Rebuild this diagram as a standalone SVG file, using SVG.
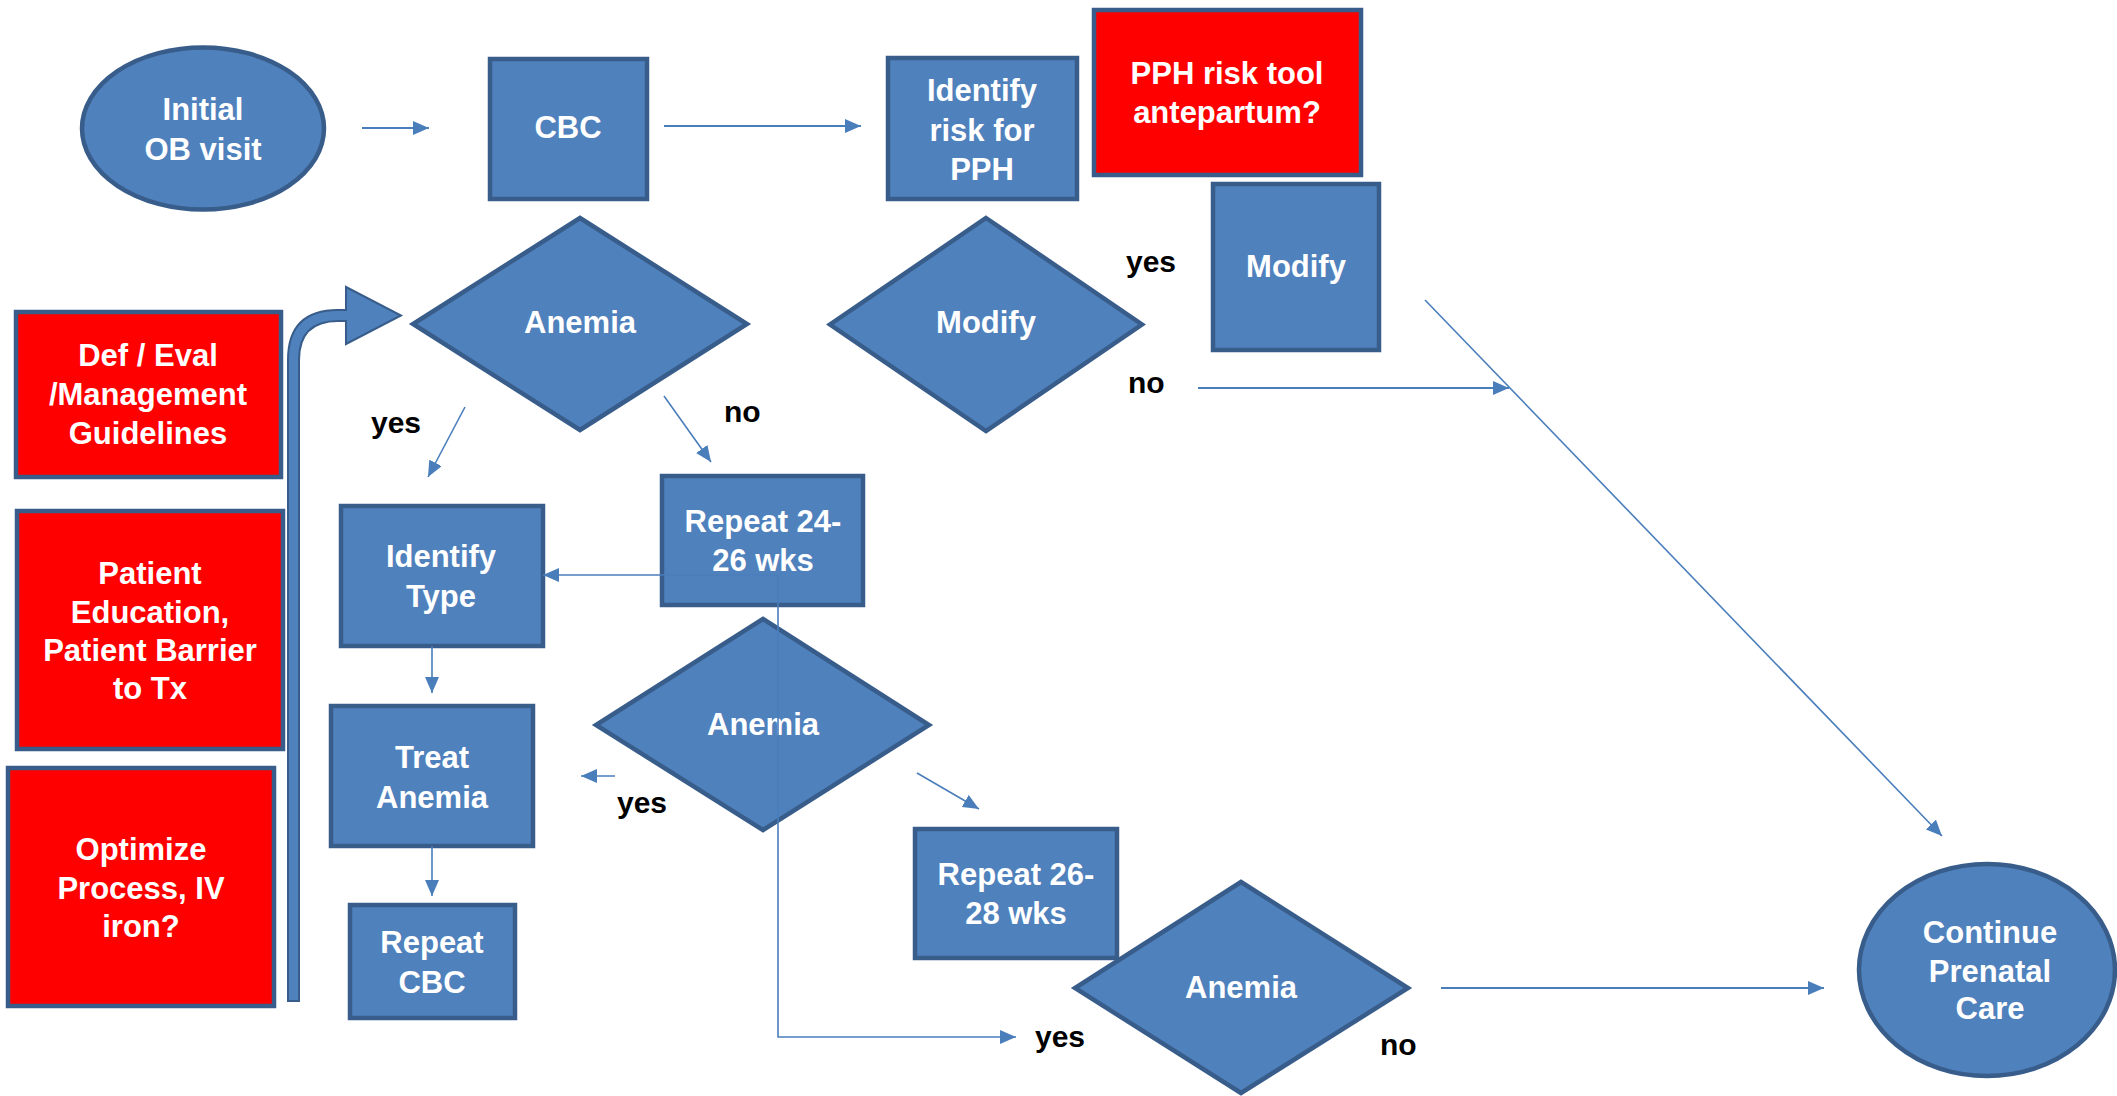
<svg xmlns="http://www.w3.org/2000/svg" width="2117" height="1096" viewBox="0 0 2117 1096">
  <defs>
    <marker id="arrow" viewBox="0 0 16 14" refX="16" refY="7" markerWidth="16" markerHeight="14" markerUnits="userSpaceOnUse" orient="auto">
      <path d="M0,0 L16,7 L0,14 Z" fill="#4A7EBB"/>
    </marker>
  </defs>
  <style>
    .blue { fill: #4F81BD; stroke: #385D8A; stroke-width: 4.5; stroke-linejoin: miter; }
    .red { fill: #FF0000; stroke: #385D8A; stroke-width: 4.5; }
    .t { font-family: "Liberation Sans", Arial, sans-serif; font-weight: bold; font-size: 31px; fill: #FFFFFF; text-anchor: middle; }
    .lbl { font-family: "Liberation Sans", Arial, sans-serif; font-weight: bold; font-size: 30px; fill: #000000; }
    .conn { fill: none; stroke: #4A7EBB; stroke-width: 2; marker-end: url(#arrow); }
    .thin { stroke-width: 1.6; }
  </style>
  <rect width="2117" height="1096" fill="#FFFFFF"/>

  <!-- start -->
  <g id="initial-ob-visit">
    <ellipse class="blue" cx="203" cy="128.5" rx="121" ry="81"/>
    <text class="t" x="203" y="120">Initial</text>
    <text class="t" x="203" y="160">OB visit</text>
  </g>

  <g id="cbc">
    <rect class="blue" x="490" y="59" width="157" height="140"/>
    <text class="t" x="568" y="138">CBC</text>
  </g>

  <g id="identify-risk">
    <rect class="blue" x="888" y="58" width="189" height="141"/>
    <text class="t" x="982" y="101">Identify</text>
    <text class="t" x="982" y="141">risk for</text>
    <text class="t" x="982" y="180">PPH</text>
  </g>

  <g id="pph-risk-tool">
    <rect class="red" x="1094" y="10" width="267" height="165"/>
    <text class="t" x="1227" y="84">PPH risk tool</text>
    <text class="t" x="1227" y="123">antepartum?</text>
  </g>

  <g id="modify-box">
    <rect class="blue" x="1213" y="184" width="166" height="166"/>
    <text class="t" x="1296" y="277">Modify</text>
  </g>

  <g id="modify-decision">
    <polygon class="blue" points="986,218 1142,324.5 986,431 830,324.5"/>
    <text class="t" x="986" y="333">Modify</text>
  </g>

  <g id="anemia-1">
    <polygon class="blue" points="580,218 747,324 580,430 413,324"/>
    <text class="t" x="580" y="333">Anemia</text>
  </g>

  <!-- side notes -->
  <g id="def-eval">
    <rect class="red" x="16" y="312" width="265" height="165"/>
    <text class="t" x="148" y="366">Def / Eval</text>
    <text class="t" x="148" y="405">/Management</text>
    <text class="t" x="148" y="444">Guidelines</text>
  </g>

  <g id="patient-education">
    <rect class="red" x="17" y="511" width="266" height="238"/>
    <text class="t" x="150" y="584">Patient</text>
    <text class="t" x="150" y="623">Education,</text>
    <text class="t" x="150" y="661">Patient Barrier</text>
    <text class="t" x="150" y="699">to Tx</text>
  </g>

  <g id="optimize-process">
    <rect class="red" x="8" y="768" width="266" height="238"/>
    <text class="t" x="141" y="860">Optimize</text>
    <text class="t" x="141" y="899">Process, IV</text>
    <text class="t" x="141" y="937">iron?</text>
  </g>

  <g id="loop-back">
    <path d="M288,1001 L288,360 Q288,310 338,310 L346,310 L346,287 L401,315.5 L346,344 L346,321 L338,321 Q299,321 299,360 L299,1001 Z" fill="#4F81BD" stroke="#385D8A" stroke-width="2"/>
  </g>

  <!-- treatment path -->
  <g id="identify-type">
    <rect class="blue" x="341" y="506" width="202" height="140"/>
    <text class="t" x="441" y="567">Identify</text>
    <text class="t" x="441" y="607">Type</text>
  </g>

  <g id="treat-anemia">
    <rect class="blue" x="331" y="706" width="202" height="140"/>
    <text class="t" x="432" y="768">Treat</text>
    <text class="t" x="432" y="808">Anemia</text>
  </g>

  <g id="repeat-cbc">
    <rect class="blue" x="350" y="905" width="165" height="113"/>
    <text class="t" x="432" y="953">Repeat</text>
    <text class="t" x="432" y="993">CBC</text>
  </g>

  <!-- follow-up checks -->
  <g id="repeat-24-26">
    <rect class="blue" x="662" y="476" width="201" height="129"/>
    <text class="t" x="763" y="532">Repeat 24-</text>
    <text class="t" x="763" y="571">26 wks</text>
  </g>

  <g id="anemia-2">
    <polygon class="blue" points="763,619 929,725 763,830 596,725"/>
    <text class="t" x="763" y="735">Anemia</text>
  </g>

  <g id="repeat-26-28">
    <rect class="blue" x="915" y="829" width="202" height="129"/>
    <text class="t" x="1016" y="885">Repeat 26-</text>
    <text class="t" x="1016" y="924">28 wks</text>
  </g>

  <g id="anemia-3">
    <polygon class="blue" points="1241,882 1408,988 1241,1093 1075,988"/>
    <text class="t" x="1241" y="998">Anemia</text>
  </g>

  <g id="continue-prenatal-care">
    <ellipse class="blue" cx="1987" cy="970" rx="128" ry="106"/>
    <text class="t" x="1990" y="943">Continue</text>
    <text class="t" x="1990" y="982">Prenatal</text>
    <text class="t" x="1990" y="1019">Care</text>
  </g>

  <!-- connectors -->
  <g id="connectors">
    <line class="conn" x1="362" y1="128" x2="429" y2="128"/>
    <line class="conn" x1="664" y1="126" x2="861" y2="126"/>
    <line class="conn thin" x1="465" y1="407" x2="428" y2="477"/>
    <line class="conn thin" x1="664" y1="396" x2="711" y2="462"/>
    <line class="conn thin" x1="778" y1="575" x2="543" y2="575"/>
    <polyline class="conn thin" points="778,575 778,1037 1016,1037"/>
    <line class="conn thin" x1="432" y1="646" x2="432" y2="693"/>
    <line class="conn thin" x1="432" y1="846" x2="432" y2="896"/>
    <line class="conn thin" x1="615" y1="776" x2="581" y2="776"/>
    <line class="conn thin" x1="917" y1="773" x2="979" y2="809"/>
    <line class="conn" x1="1198" y1="388" x2="1509" y2="388"/>
    <line class="conn thin" x1="1425" y1="300" x2="1942" y2="836"/>
    <line class="conn" x1="1441" y1="988" x2="1824" y2="988"/>
  </g>

  <!-- branch labels -->
  <g id="labels">
    <text class="lbl" x="371" y="433">yes</text>
    <text class="lbl" x="724" y="422">no</text>
    <text class="lbl" x="1126" y="272">yes</text>
    <text class="lbl" x="1128" y="393">no</text>
    <text class="lbl" x="617" y="813">yes</text>
    <text class="lbl" x="1035" y="1047">yes</text>
    <text class="lbl" x="1380" y="1055">no</text>
  </g>
</svg>
